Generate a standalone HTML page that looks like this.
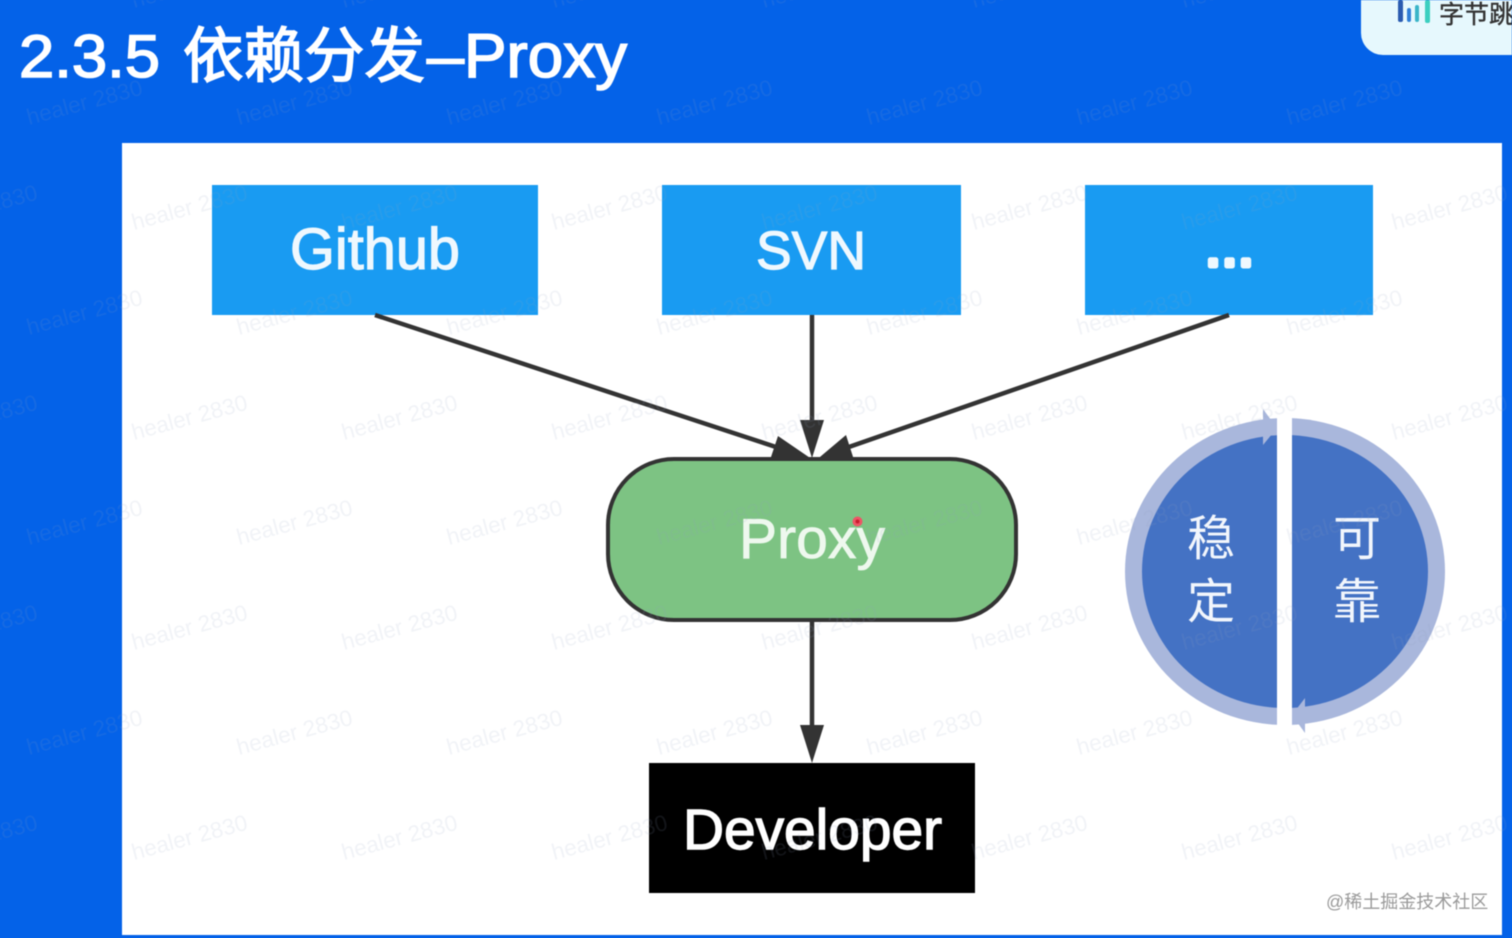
<!DOCTYPE html>
<html lang="zh">
<head>
<meta charset="utf-8">
<title>2.3.5 依赖分发-Proxy</title>
<style>
html,body{margin:0;padding:0;width:1512px;height:938px;overflow:hidden;background:#0462E8}
svg{display:block;filter:blur(.6px)}
text{font-family:"Liberation Sans","Noto Sans CJK SC",sans-serif}
</style>
</head>
<body>
<svg xmlns="http://www.w3.org/2000/svg" width="1512" height="938" viewBox="0 0 1512 938">
  <defs>
    <clipPath id="cl"><rect x="1100" y="400" width="177" height="340"/></clipPath>
    <clipPath id="cr"><rect x="1292" y="400" width="177" height="340"/></clipPath>
  </defs>
  <rect width="1512" height="938" fill="#0462E8"/>

  <!-- logo tag -->
  <rect x="1361" y="-30" width="180" height="85" rx="22" fill="#E6F8FD"/>
  <rect x="1398" y="0" width="5" height="22" rx="2" fill="#2A5BB0"/>
  <rect x="1407" y="8" width="4" height="14" rx="2" fill="#2F7FD8"/>
  <rect x="1415" y="5" width="4" height="17" rx="2" fill="#3AB5C8"/>
  <rect x="1425" y="0" width="5" height="23" rx="2" fill="#3CCFC0"/>
  <text x="1439" y="23" font-size="25" fill="#333" stroke="#333" stroke-width=".4">字节跳动</text>

  <!-- title -->
  <g fill="#fff" stroke="#fff" stroke-width="1.600">
    <text x="19" y="77" font-size="60" textLength="141" lengthAdjust="spacingAndGlyphs">2.3.5</text>
    <text x="183" y="77" font-size="60" textLength="242" lengthAdjust="spacingAndGlyphs">依赖分发</text>
    <text x="427" y="77" font-size="60" textLength="37" lengthAdjust="spacingAndGlyphs">–</text>
    <text x="464" y="77" font-size="62" textLength="163" lengthAdjust="spacingAndGlyphs">Proxy</text>
  </g>

  <!-- panel -->
  <rect x="122" y="143" width="1380" height="792" fill="#fff"/>

  <!-- source boxes -->
  <rect x="212" y="185" width="326" height="130" fill="#199BF2"/>
  <rect x="662" y="185" width="299" height="130" fill="#199BF2"/>
  <rect x="1085" y="185" width="288" height="130" fill="#199BF2"/>
  <g fill="#EFF8FE" stroke="#EFF8FE" stroke-width="1.200">
    <text x="290" y="269" font-size="58" textLength="170" lengthAdjust="spacingAndGlyphs">Github</text>
    <text x="756" y="269" font-size="54" textLength="110" lengthAdjust="spacingAndGlyphs">SVN</text>
    <text x="1205" y="266" font-size="58" stroke-width="5" stroke-linejoin="round" textLength="49">...</text>
  </g>

  <!-- connectors -->
  <g stroke="#333" stroke-width="4.500" fill="none">
    <line x1="375" y1="315" x2="782" y2="449"/>
    <line x1="812" y1="315" x2="812" y2="425"/>
    <line x1="1229" y1="315" x2="846" y2="448"/>
    <line x1="812" y1="620" x2="812" y2="730"/>
  </g>
  <g fill="#333">
    <polygon points="778,436 770,460 816,462"/>
    <polygon points="800,420 824,420 812,458"/>
    <polygon points="846,435 854,460 814,462"/>
    <polygon points="800,725 824,725 812,763"/>
  </g>

  <!-- proxy -->
  <rect x="608" y="459" width="408" height="161" rx="66" ry="66" fill="#7DC383" stroke="#333" stroke-width="4"/>
  <text x="739" y="558" font-size="57" fill="#EEF8EE" stroke="#EEF8EE" stroke-width=".8" textLength="146" lengthAdjust="spacingAndGlyphs">Proxy</text>
  <circle cx="857.500" cy="521.500" r="5" fill="#EE5566"/>
  <circle cx="857.500" cy="521.500" r="2" fill="#C81E2E"/>

  <!-- developer -->
  <rect x="649" y="763" width="326" height="130" fill="#000"/>
  <text x="683" y="849" font-size="57" fill="#fff" stroke="#fff" stroke-width="1.400" textLength="259" lengthAdjust="spacingAndGlyphs">Developer</text>

  <!-- cycle graphic -->
  <g clip-path="url(#cl)">
    <ellipse cx="1285" cy="571.500" rx="160" ry="153.500" fill="#A9B7DC"/>
    <ellipse cx="1285" cy="571.500" rx="143" ry="136.500" fill="#4472C4"/>
  </g>
  <g clip-path="url(#cr)">
    <ellipse cx="1285" cy="571.500" rx="160" ry="153.500" fill="#A9B7DC"/>
    <ellipse cx="1285" cy="571.500" rx="143" ry="136.500" fill="#4472C4"/>
  </g>
  <polygon points="1277,428 1263,409 1263,445" fill="#A9B7DC"/>
  <polygon points="1292,715 1305,698 1305,733" fill="#A9B7DC"/>
  <g font-size="48" fill="#F2F6FC" text-anchor="middle">
    <text x="1211" y="555">稳</text>
    <text x="1211" y="618">定</text>
    <text x="1357" y="555">可</text>
    <text x="1357" y="618">靠</text>
  </g>

  <!-- watermark -->
  <g font-size="22.500" fill="#8FA6BF" fill-opacity=".13" transform="translate(3,1)">
    <text transform="translate(131,7) rotate(-15)">healer 2830</text>
    <text transform="translate(341,7) rotate(-15)">healer 2830</text>
    <text transform="translate(551,7) rotate(-15)">healer 2830</text>
    <text transform="translate(761,7) rotate(-15)">healer 2830</text>
    <text transform="translate(971,7) rotate(-15)">healer 2830</text>
    <text transform="translate(1181,7) rotate(-15)">healer 2830</text>

    <text transform="translate(26,124) rotate(-15)">healer 2830</text>
    <text transform="translate(236,124) rotate(-15)">healer 2830</text>
    <text transform="translate(446,124) rotate(-15)">healer 2830</text>
    <text transform="translate(656,124) rotate(-15)">healer 2830</text>
    <text transform="translate(866,124) rotate(-15)">healer 2830</text>
    <text transform="translate(1076,124) rotate(-15)">healer 2830</text>
    <text transform="translate(1286,124) rotate(-15)">healer 2830</text>

    <text transform="translate(-79,229) rotate(-15)">healer 2830</text>
    <text transform="translate(131,229) rotate(-15)">healer 2830</text>
    <text transform="translate(341,229) rotate(-15)">healer 2830</text>
    <text transform="translate(551,229) rotate(-15)">healer 2830</text>
    <text transform="translate(761,229) rotate(-15)">healer 2830</text>
    <text transform="translate(971,229) rotate(-15)">healer 2830</text>
    <text transform="translate(1181,229) rotate(-15)">healer 2830</text>
    <text transform="translate(1391,229) rotate(-15)">healer 2830</text>

    <text transform="translate(26,334) rotate(-15)">healer 2830</text>
    <text transform="translate(236,334) rotate(-15)">healer 2830</text>
    <text transform="translate(446,334) rotate(-15)">healer 2830</text>
    <text transform="translate(656,334) rotate(-15)">healer 2830</text>
    <text transform="translate(866,334) rotate(-15)">healer 2830</text>
    <text transform="translate(1076,334) rotate(-15)">healer 2830</text>
    <text transform="translate(1286,334) rotate(-15)">healer 2830</text>

    <text transform="translate(-79,439) rotate(-15)">healer 2830</text>
    <text transform="translate(131,439) rotate(-15)">healer 2830</text>
    <text transform="translate(341,439) rotate(-15)">healer 2830</text>
    <text transform="translate(551,439) rotate(-15)">healer 2830</text>
    <text transform="translate(761,439) rotate(-15)">healer 2830</text>
    <text transform="translate(971,439) rotate(-15)">healer 2830</text>
    <text transform="translate(1181,439) rotate(-15)">healer 2830</text>
    <text transform="translate(1391,439) rotate(-15)">healer 2830</text>

    <text transform="translate(26,544) rotate(-15)">healer 2830</text>
    <text transform="translate(236,544) rotate(-15)">healer 2830</text>
    <text transform="translate(446,544) rotate(-15)">healer 2830</text>
    <text transform="translate(656,544) rotate(-15)">healer 2830</text>
    <text transform="translate(866,544) rotate(-15)">healer 2830</text>
    <text transform="translate(1076,544) rotate(-15)">healer 2830</text>
    <text transform="translate(1286,544) rotate(-15)">healer 2830</text>

    <text transform="translate(-79,649) rotate(-15)">healer 2830</text>
    <text transform="translate(131,649) rotate(-15)">healer 2830</text>
    <text transform="translate(341,649) rotate(-15)">healer 2830</text>
    <text transform="translate(551,649) rotate(-15)">healer 2830</text>
    <text transform="translate(761,649) rotate(-15)">healer 2830</text>
    <text transform="translate(971,649) rotate(-15)">healer 2830</text>
    <text transform="translate(1181,649) rotate(-15)">healer 2830</text>
    <text transform="translate(1391,649) rotate(-15)">healer 2830</text>

    <text transform="translate(26,754) rotate(-15)">healer 2830</text>
    <text transform="translate(236,754) rotate(-15)">healer 2830</text>
    <text transform="translate(446,754) rotate(-15)">healer 2830</text>
    <text transform="translate(656,754) rotate(-15)">healer 2830</text>
    <text transform="translate(866,754) rotate(-15)">healer 2830</text>
    <text transform="translate(1076,754) rotate(-15)">healer 2830</text>
    <text transform="translate(1286,754) rotate(-15)">healer 2830</text>

    <text transform="translate(-79,859) rotate(-15)">healer 2830</text>
    <text transform="translate(131,859) rotate(-15)">healer 2830</text>
    <text transform="translate(341,859) rotate(-15)">healer 2830</text>
    <text transform="translate(551,859) rotate(-15)">healer 2830</text>
    <text transform="translate(761,859) rotate(-15)">healer 2830</text>
    <text transform="translate(971,859) rotate(-15)">healer 2830</text>
    <text transform="translate(1181,859) rotate(-15)">healer 2830</text>
    <text transform="translate(1391,859) rotate(-15)">healer 2830</text>
  </g>

  <!-- attribution -->
  <text x="1326" y="908" font-size="18" fill="#9A9A9A">@稀土掘金技术社区</text>
</svg>
</body>
</html>
